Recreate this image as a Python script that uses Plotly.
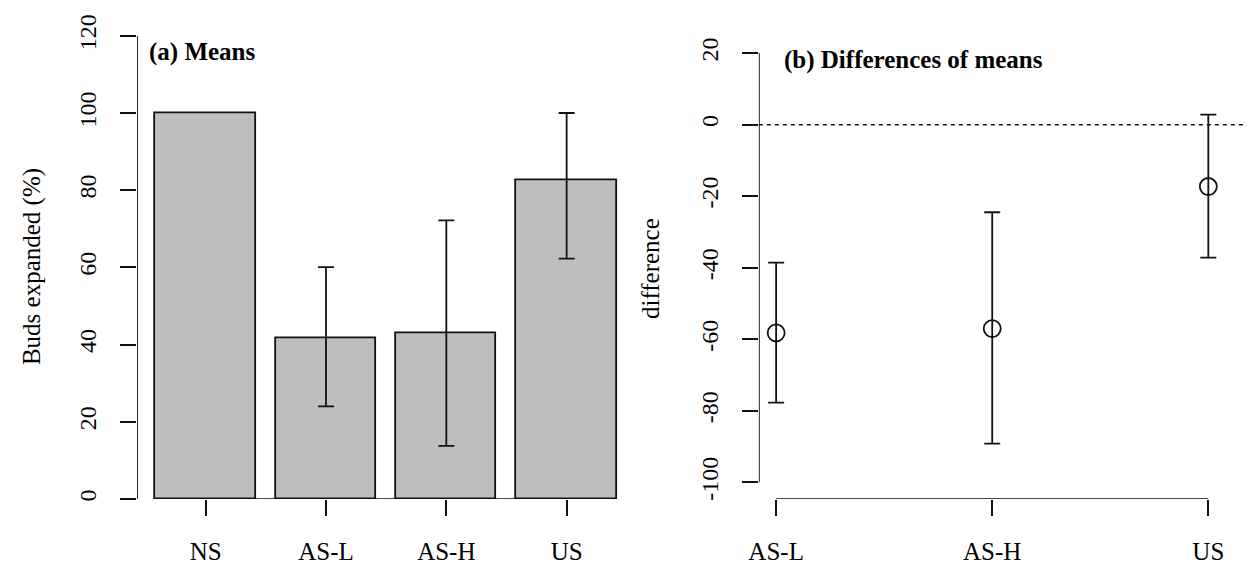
import plotly.graph_objects as go

# ---- data ----
cats_a = ["NS", "AS-L", "AS-H", "US"]
means = [100.0, 41.7, 42.9, 82.7]
means_hi = [None, 60.1, 72.2, 100.0]
means_lo = [None, 24.0, 13.8, 62.3]

cats_b = ["AS-L", "AS-H", "US"]
diffs = [-58.2, -57.0, -17.3]
diffs_hi = [-38.6, -24.5, 2.8]
diffs_lo = [-77.7, -89.2, -37.2]

yticks_a = [0, 20, 40, 60, 80, 100, 120]
yticks_b = [-100, -80, -60, -40, -20, 0, 20]

# barplot-style positions (width 1, space 0.2)
bar_x = [0.2 + 1.2 * i + 0.5 for i in range(len(cats_a))]
pt_x = [i + 1 for i in range(len(cats_b))]

FONT = "Liberation Serif"
LW = 1.8
BLACK = "#111111"

# error bars only where an interval exists
eb_idx = [i for i, h in enumerate(means_hi) if h is not None]
eb_x = [bar_x[i] for i in eb_idx]
eb_y = [means[i] for i in eb_idx]
eb_up = [means_hi[i] - means[i] for i in eb_idx]
eb_dn = [means[i] - means_lo[i] for i in eb_idx]

up_b = [h - m for h, m in zip(diffs_hi, diffs)]
dn_b = [m - l for l, m in zip(diffs_lo, diffs)]

fig = go.Figure()
fig.add_trace(go.Bar(
    x=bar_x, y=means, width=1.0,
    marker=dict(color="#BEBEBE", line=dict(color=BLACK, width=LW)),
    xaxis="x", yaxis="y", showlegend=False,
))
fig.add_trace(go.Scatter(
    x=eb_x, y=eb_y, mode="markers", marker=dict(size=0.1, color="rgba(0,0,0,0)"),
    error_y=dict(type="data", symmetric=False, array=eb_up, arrayminus=eb_dn,
                 color=BLACK, thickness=LW, width=8),
    xaxis="x", yaxis="y", showlegend=False,
))
fig.add_trace(go.Scatter(
    x=pt_x, y=diffs, mode="markers",
    marker=dict(symbol="circle-open", size=17, color=BLACK, line=dict(width=LW, color=BLACK)),
    error_y=dict(type="data", symmetric=False, array=up_b, arrayminus=dn_b,
                 color=BLACK, thickness=LW, width=8),
    xaxis="x2", yaxis="y2", showlegend=False,
))

W, H = 1247, 565
tickfont = dict(family=FONT, size=24, color="black")
labfont = dict(family=FONT, size=25, color="black")

common_ax = dict(showgrid=False, zeroline=False, showline=False, ticks="outside",
                 ticklen=16, tickwidth=LW, tickcolor=BLACK)

fig.update_layout(
    width=W, height=H,
    margin=dict(l=0, r=0, t=0, b=0),
    paper_bgcolor="white", plot_bgcolor="white",
    bargap=0,
    xaxis=dict(domain=[128.1 / W, 630.3 / W], range=[0.016, 4.984], anchor="y",
               tickvals=bar_x, ticktext=cats_a, tickfont=labfont,
               ticklabelstandoff=14, **common_ax),
    yaxis=dict(domain=[60 / H, (H - 14.5) / H], range=[0, 124.8], anchor="x",
               tickvals=yticks_a, ticktext=[str(v) for v in yticks_a],
               tickangle=-90, tickfont=tickfont, ticklabelstandoff=14, **common_ax),
    xaxis2=dict(domain=[754.9 / W, 1.0], range=[0.92, 3.179], anchor="y2",
                tickvals=pt_x, ticktext=cats_b, tickfont=labfont,
                ticklabelstandoff=14, **common_ax),
    yaxis2=dict(domain=[60 / H, (H - 33.5) / H], range=[-104.67, 24.8], anchor="x2",
                tickvals=yticks_b, ticktext=[str(v) for v in yticks_b],
                tickangle=-90, tickfont=tickfont, ticklabelstandoff=14, **common_ax),
    shapes=[
        # left panel axis lines
        dict(type="line", xref="x", yref="y", x0=0.016, x1=0.016, y0=yticks_a[0], y1=yticks_a[-1],
             line=dict(color=BLACK, width=LW)),
        dict(type="line", xref="x", yref="y", x0=bar_x[0] - 0.5, x1=bar_x[-1] + 0.5, y0=0, y1=0,
             line=dict(color=BLACK, width=LW)),
        # right panel axis lines
        dict(type="line", xref="x2", yref="y2", x0=0.92, x1=0.92, y0=yticks_b[0], y1=yticks_b[-1],
             line=dict(color=BLACK, width=LW)),
        dict(type="line", xref="x2", yref="y2", x0=pt_x[0], x1=pt_x[-1], y0=-104.67, y1=-104.67,
             line=dict(color=BLACK, width=LW)),
        # zero reference line
        dict(type="line", xref="x2", yref="y2", x0=0.92, x1=3.179, y0=0, y1=0,
             line=dict(color=BLACK, width=1.5, dash="4px,4px")),
    ],
    annotations=[
        dict(text="Buds expanded (%)", xref="paper", yref="paper", x=22 / W, y=(H - 268) / H,
             textangle=-90, showarrow=False, font=labfont, xanchor="center", yanchor="middle"),
        dict(text="difference", xref="paper", yref="paper", x=645 / W, y=(H - 270) / H,
             textangle=-90, showarrow=False, font=labfont, xanchor="center", yanchor="middle"),
        dict(text="<b>(a) Means</b>", xref="paper", yref="paper", x=138 / W, y=(H - 50) / H,
             showarrow=False, font=labfont, xanchor="left", yanchor="middle"),
        dict(text="<b>(b) Differences of means</b>", xref="paper", yref="paper", x=778 / W,
             y=(H - 58) / H, showarrow=False, font=labfont, xanchor="left", yanchor="middle"),
    ],
)

fig.write_html("out.html", config={"displayModeBar": False},
               post_script="document.body.style.margin='0';document.body.style.overflow='hidden';")
